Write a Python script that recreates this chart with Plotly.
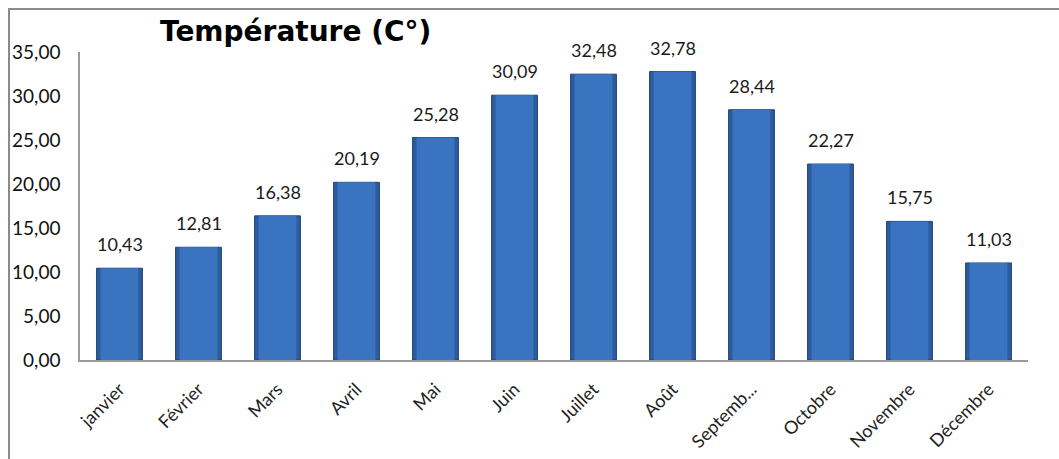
import plotly.graph_objects as go

months = ["janvier", "Février", "Mars", "Avril", "Mai", "Juin", "Juillet",
          "Août", "Septembre", "Octobre", "Novembre", "Décembre"]
tick_labels = ["janvier", "Février", "Mars", "Avril", "Mai", "Juin", "Juillet",
               "Août", "Septemb...", "Octobre", "Novembre", "Décembre"]
temperature = [10.43, 12.81, 16.38, 20.19, 25.28, 30.09, 32.48, 32.78, 28.44, 22.27, 15.75, 11.03]
y_ticks = [0, 5, 10, 15, 20, 25, 30, 35]
title_text = "Température (C°)"

fig = go.Figure()
# outer (darker) bar
fig.add_trace(go.Bar(
    x=months, y=temperature, width=0.58,
    marker=dict(color="#2C5C9E", line=dict(color="#1F4478", width=1)),
    hoverinfo="skip", showlegend=False,
))
# inner lighter body
fig.add_trace(go.Bar(
    x=months, y=temperature, width=0.48,
    marker=dict(color="#3A74C0", line=dict(width=0)),
    hoverinfo="skip", showlegend=False,
))

for m, v in zip(months, temperature):
    fig.add_annotation(
        x=m, y=v, xref="x", yref="y",
        text=f"{v:.2f}".replace(".", ","),
        showarrow=False, yanchor="bottom", yshift=11,
        font=dict(family="Lato", size=18, color="#1a1a1a"),
    )

fig.update_layout(
    width=1059, height=459,
    margin=dict(l=80, r=31, t=52, b=99, autoexpand=False),
    paper_bgcolor="white", plot_bgcolor="white",
    barmode="overlay",
    separators=", ",
    title=dict(
        text=title_text, x=160 / 1059, xanchor="left", xref="container",
        y=1 - 31 / 459, yanchor="middle", yref="container",
        font=dict(family="DejaVu Sans", size=28, color="#000000", weight="bold"),
    ),
    xaxis=dict(
        tickmode="array", tickvals=months, ticktext=tick_labels,
        tickangle=-45, showgrid=False, showline=True, linecolor="#9a9a9a",
        linewidth=1.5, ticks="", ticklabelstandoff=10, automargin=False,
        tickfont=dict(family="Lato", size=18, color="#222222"),
    ),
    yaxis=dict(
        range=[0, 35], tickvals=y_ticks, tickformat=".2f", showgrid=False,
        showline=True, linecolor="#9a9a9a", linewidth=1.5, ticks="",
        zeroline=False, ticklabelstandoff=14, automargin=False,
        tickfont=dict(family="Lato", size=19, color="#111111"),
    ),
    shapes=[dict(
        type="rect", xref="paper", yref="paper",
        x0=(9 - 80) / 948, x1=1.2, y0=-0.6, y1=1 + (52 - 9) / 308,
        line=dict(color="#8a8a8a", width=2), fillcolor="rgba(0,0,0,0)", layer="below",
    )],
)

fig.write_html("out.html")
